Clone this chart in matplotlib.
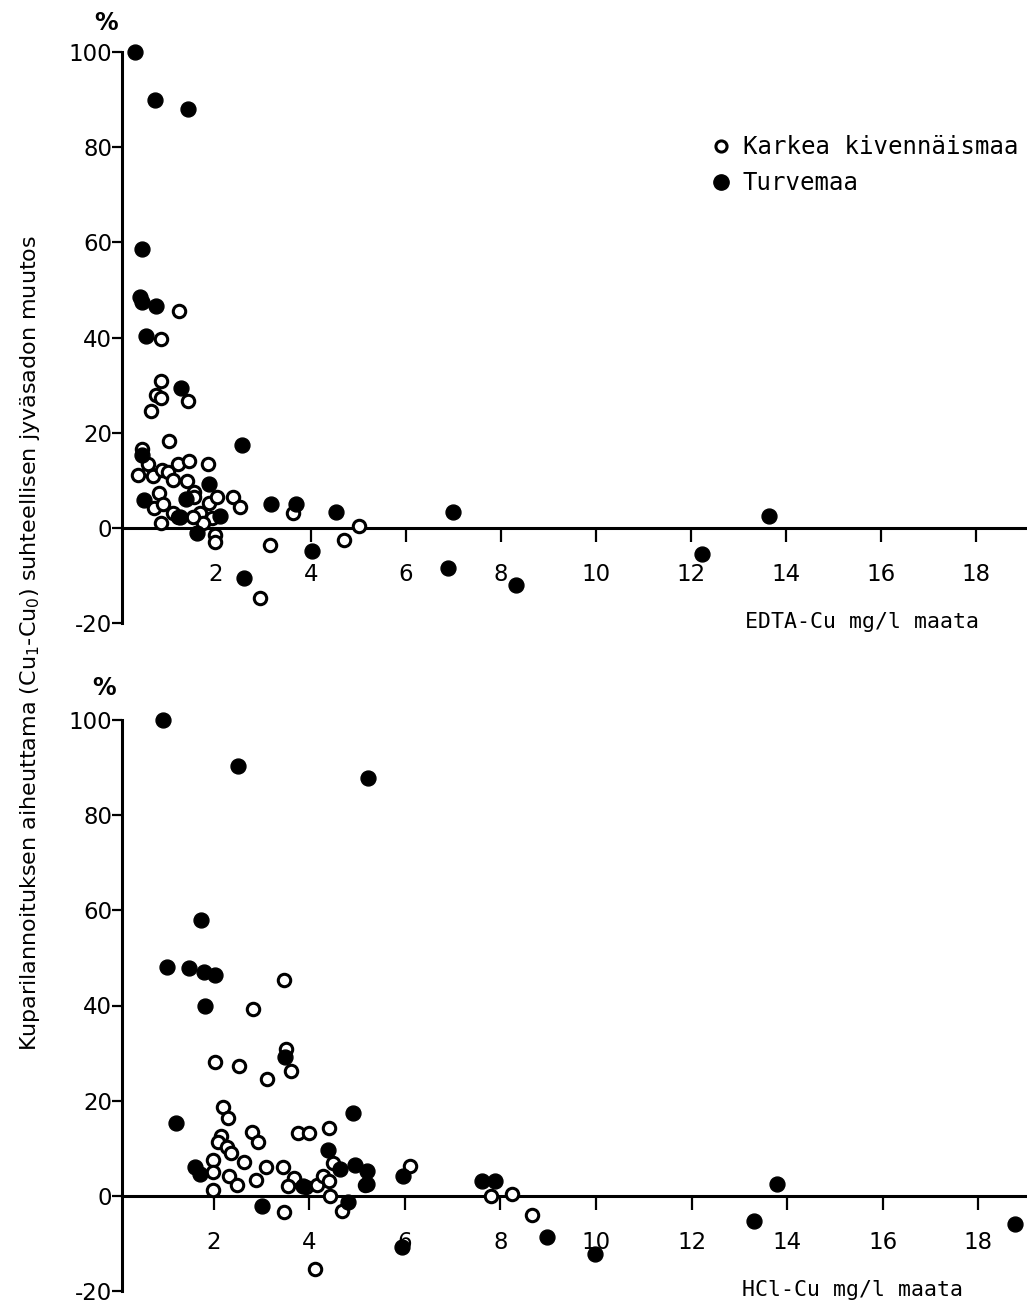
import numpy as np
import matplotlib
matplotlib.use("Agg")
import matplotlib.pyplot as plt
from matplotlib.lines import Line2D

# EDTA-Cu (mg/l maata) vs. relative change in grain yield (%)
edta_turve_x = [0.29, 0.72, 1.41, 0.44, 0.40, 0.44, 0.74, 0.53, 1.26, 2.55, 1.85, 0.45,
                0.48, 1.37, 2.08, 1.24, 1.60, 3.16, 3.68, 4.53, 6.99, 2.59, 4.02, 6.88,
                8.32, 13.64, 12.23]
edta_turve_y = [100, 90, 88, 58.6, 48.5, 47.5, 46.6, 40.3, 29.4, 17.4, 9.2, 15.3,
                5.9, 6.1, 2.5, 2.3, -1.1, 5.0, 5.0, 3.4, 3.4, -10.5, -4.8, -8.4,
                -12, 2.5, -5.5]
edta_karkea_x = [1.22, 0.84, 0.84, 0.74, 0.84, 1.41, 0.63, 1.01, 0.44, 0.57, 0.36, 0.67,
                 0.86, 0.99, 1.09, 1.20, 1.43, 1.39, 1.83, 0.80, 0.69, 0.88, 0.84, 1.09,
                 1.20, 1.54, 1.54, 1.66, 1.85, 2.02, 1.91, 1.73, 1.52, 1.98, 1.98, 2.36,
                 2.51, 3.14, 2.93, 3.62, 4.69, 5.01]
edta_karkea_y = [45.6, 39.7, 30.9, 27.9, 27.3, 26.7, 24.6, 18.3, 16.6, 13.4, 11.1, 10.9,
                 12.2, 11.8, 10.1, 13.4, 14.1, 9.9, 13.4, 7.4, 4.2, 5.0, 1.1, 3.1,
                 2.3, 7.6, 6.5, 3.1, 5.2, 6.5, 2.1, 1.1, 2.3, -1.5, -2.9, 6.5,
                 4.4, -3.6, -14.7, 3.2, -2.5, 0.4]

# HCl-Cu (mg/l maata) vs. the same yield change
hcl_turve_x = [0.94, 2.51, 5.23, 1.03, 1.49, 1.80, 2.03, 1.82, 1.74, 1.21, 4.92, 4.39,
               1.61, 1.72, 4.64, 4.96, 5.21, 5.21, 3.87, 3.01, 4.81, 5.96, 5.94, 7.61,
               7.89, 8.97, 9.98, 13.79, 13.31, 18.77, 3.49]
hcl_turve_y = [100, 90.3, 87.8, 48.1, 47.9, 47.1, 46.4, 39.9, 58.0, 15.3, 17.4, 9.7,
               6.1, 4.6, 5.7, 6.5, 5.3, 2.5, 2.1, -2.1, -1.3, 4.2, -10.7, 3.2,
               3.2, -8.6, -12.2, 2.5, -5.3, -5.9, 29.2]
hcl_karkea_x = [3.47, 2.83, 3.51, 3.62, 2.03, 2.53, 3.12, 2.20, 2.30, 2.15, 2.09, 2.28,
                2.36, 2.80, 2.93, 3.77, 4.00, 4.41, 1.99, 1.99, 1.99, 2.64, 2.32, 2.49,
                3.10, 2.89, 3.45, 3.47, 3.68, 3.56, 3.93, 4.16, 4.29, 4.41, 4.50, 4.44,
                4.69, 5.17, 6.11, 7.80, 8.24, 8.66, 4.12]
hcl_karkea_y = [45.4, 39.3, 30.9, 26.3, 28.2, 27.3, 24.6, 18.7, 16.4, 12.6, 11.3, 10.3,
                9.0, 13.4, 11.3, 13.2, 13.2, 14.3, 7.6, 5.0, 1.3, 7.1, 4.2, 2.3,
                6.1, 3.4, 6.1, -3.4, 3.8, 2.1, 1.9, 2.3, 4.2, 3.2, 6.9, 0.0,
                -3.2, 2.3, 6.3, 0.0, 0.4, -4.0, -15.3]

xticks = [2, 4, 6, 8, 10, 12, 14, 16, 18]
yticks = [-20, 0, 20, 40, 60, 80, 100]

num_font = ['Liberation Sans Narrow', 'DejaVu Sans Condensed', 'DejaVu Sans']
mono_font = ['DejaVu Sans Mono']
plt.rcParams['mathtext.default'] = 'regular'

W, H = 1027, 1308
fig = plt.figure(figsize=(W / 100, H / 100), dpi=100)


def px(x, y):
    return x / W, 1 - y / H


def setup(ax, xmin, xmax):
    ax.set_xlim(xmin, xmax)
    ax.set_ylim(-20, 100)
    ax.spines['top'].set_visible(False)
    ax.spines['right'].set_visible(False)
    ax.spines['bottom'].set_position(('data', 0))
    ax.spines['left'].set_bounds(-20, 100)
    for s in ('left', 'bottom'):
        ax.spines[s].set_linewidth(2.2)
    ax.set_xticks(xticks)
    ax.set_yticks(yticks)
    ax.set_yticklabels([str(t) for t in yticks])
    ax.tick_params(axis='x', direction='out', length=10, width=1.6, pad=15)
    ax.tick_params(axis='y', direction='out', length=7, width=1.6, pad=0)
    for lab in ax.get_xticklabels() + ax.get_yticklabels():
        lab.set_family(num_font)
        lab.set_fontsize(16.5)
    ax.patch.set_alpha(0)


def draw(ax, kx, ky, tx, ty):
    ax.scatter(kx, ky, s=80, facecolors='white', edgecolors='black',
               linewidths=2.2, zorder=3, clip_on=False)
    ax.scatter(tx, ty, s=115, color='black', zorder=4, clip_on=False)


# upper panel: EDTA
ax1 = fig.add_axes([122 / W, 1 - 623 / H, (W - 122) / W, (623 - 52) / H])
setup(ax1, 0.02, 19.07)
draw(ax1, edta_karkea_x, edta_karkea_y, edta_turve_x, edta_turve_y)

# lower panel: HCl
ax2 = fig.add_axes([122 / W, 1 - 1291 / H, (W - 122) / W, (1291 - 720) / H])
setup(ax2, 0.08, 19.02)
draw(ax2, hcl_karkea_x, hcl_karkea_y, hcl_turve_x, hcl_turve_y)

handles = [
    Line2D([], [], ls='none', marker='o', ms=8, mfc='white', mec='black', mew=2.2),
    Line2D([], [], ls='none', marker='o', ms=11, color='black'),
]
ax1.legend(handles, ['Karkea kivennäismaa', 'Turvemaa'], frameon=False,
           loc='upper left', bbox_to_anchor=px(696, 123), bbox_transform=fig.transFigure,
           prop={'family': mono_font, 'size': 17.3}, handletextpad=0.35,
           labelspacing=0.5, handlelength=1.1, borderpad=0)

fig.text(*px(745, 622), 'EDTA-Cu mg/l maata', family=mono_font, fontsize=15.5, va='center')
fig.text(*px(742, 1290), 'HCl-Cu mg/l maata', family=mono_font, fontsize=15.5, va='center')
fig.text(*px(106, 23), '%', family=num_font, fontsize=17, fontweight='bold',
         ha='center', va='center')
fig.text(*px(104, 688), '%', family=num_font, fontsize=17, fontweight='bold',
         ha='center', va='center')
fig.text(*px(30, 643),
         'Kuparilannoituksen aiheuttama (Cu$_1$-Cu$_0$) suhteellisen jyväsadon muutos',
         family=num_font, fontsize=16, rotation=90, ha='center', va='center')

fig.savefig('out.png', dpi=100)
